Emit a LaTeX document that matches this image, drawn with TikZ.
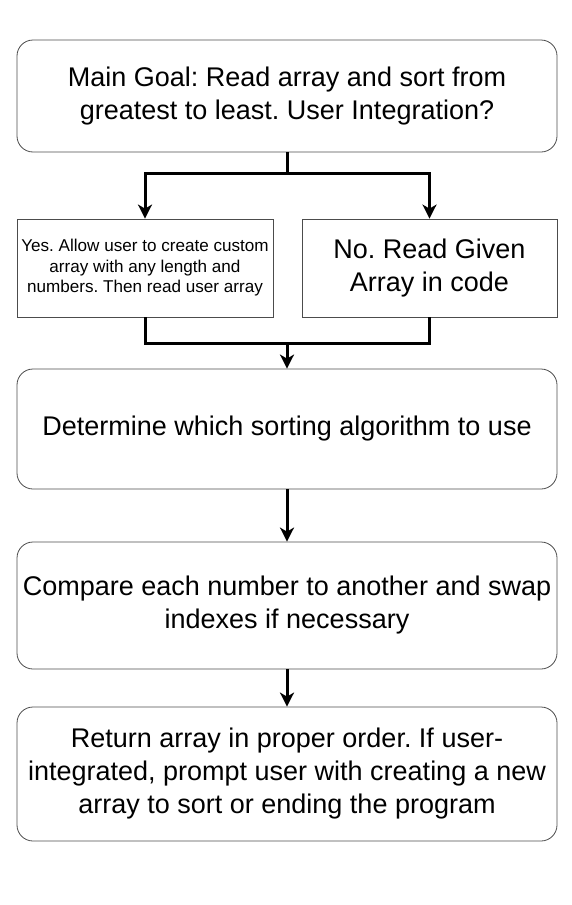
\documentclass[tikz,border=0pt]{standalone}
\usepackage{fontspec}
\setmainfont{Liberation Sans}
\usetikzlibrary{arrows.meta}
\frenchspacing
\begin{document}
\begin{tikzpicture}[x=1pt,y=-1pt,
  rbox/.style={draw=black!70, line width=0.8pt, rounded corners=16pt, align=center, inner sep=0pt, font=\fontsize{27}{33}\selectfont},
  sbox/.style={draw=black!70, line width=0.8pt, align=center, inner sep=0pt},
  wire/.style={draw=black, line width=3pt},
  conn/.style={wire, -{Stealth[length=14pt,width=14pt,inset=4pt]}}
]
\useasboundingbox (0,0) rectangle (572,905);
\node[rbox, minimum width=540pt, minimum height=112pt] (main) at (287,96)
  {Main Goal: Read array and sort from\\greatest to least. User Integration?};
\node[sbox, minimum width=256pt, minimum height=98pt, font=\fontsize{17.1}{20.5}\selectfont] (yes) at (145,268)
  {Yes. Allow user to create custom\\array with any length and\\numbers. Then read user array};
\node[sbox, minimum width=255pt, minimum height=98pt, font=\fontsize{27}{33}\selectfont] (no) at (429.5,268)
  {No. Read Given\\Array in code};
\node[rbox, minimum width=540pt, minimum height=120pt] (det) at (287,429)
  {Determine which sorting algorithm to use};
\node[rbox, minimum width=540pt, minimum height=127pt] (cmp) at (287,605.5)
  {Compare each number to another and swap\\indexes if necessary};
\node[rbox, minimum width=540pt, minimum height=134pt] (ret) at (287,774)
  {Return array in proper order. If user-\\integrated, prompt user with creating a new\\array to sort or ending the program};
\coordinate (split) at (287,173);
\coordinate (merge) at (287,343);
\draw[wire] (main.south) -- (split);
\draw[conn] (split) -| (yes.north);
\draw[conn] (split) -| (no.north);
\draw[wire] (yes.south) |- (merge) -| (no.south);
\draw[conn] (merge) -- (det.north);
\draw[conn] (det.south) -- (cmp.north);
\draw[conn] (cmp.south) -- (ret.north);
\end{tikzpicture}
\end{document}
